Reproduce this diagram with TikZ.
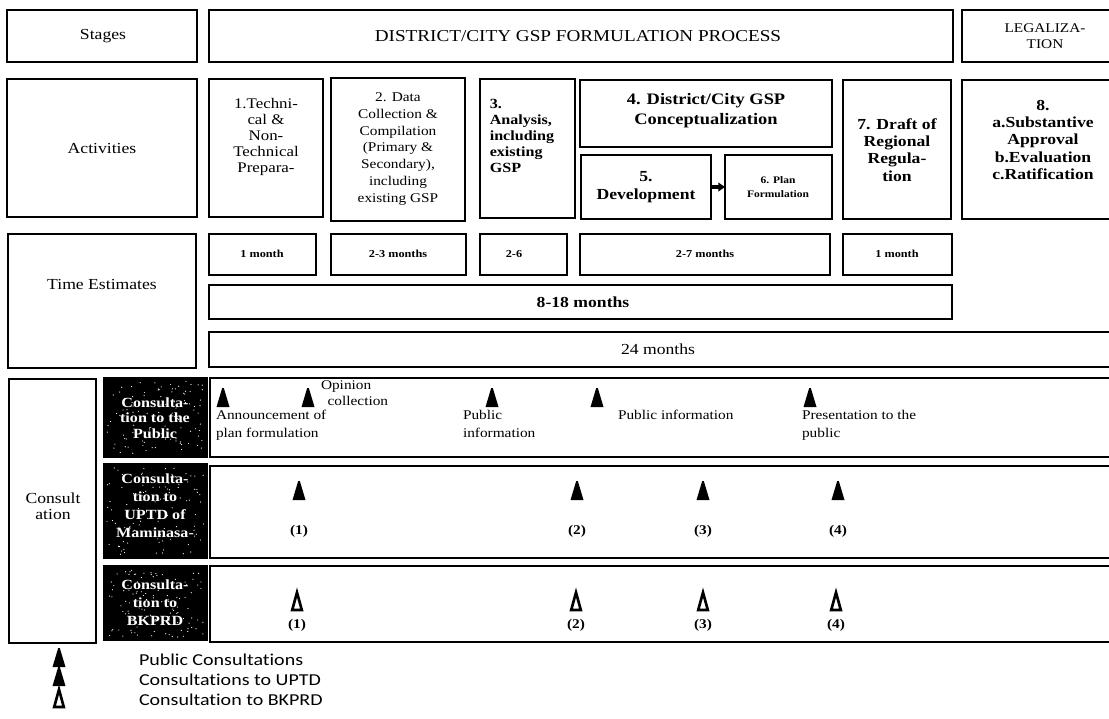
\documentclass[tikz,border=0pt]{standalone}
\usepackage{fontspec}
\setmainfont{Liberation Serif}[FakeStretch=1.15]
\newfontfamily\legendfont{Carlito}[FakeStretch=1.2, Ligatures=NoCommon]
\usetikzlibrary{arrows.meta}

% font size helper (pt size, pt leading)
\newcommand{\fsz}[2]{\fontsize{#1}{#2}\selectfont}

% empty framed box from corner (x1,y1) to corner (x2,y2), pixel units
\newcommand{\mkbox}[6]{%
  \pgfmathsetmacro\boxwd{(#4-#2)*0.75}%
  \pgfmathsetmacro\boxht{(#5-#3)*0.75}%
  \node[#6, minimum width=\boxwd pt, minimum height=\boxht pt]
    (#1) at ({(#2+#4)/2},{(#3+#5)/2}) {};}

\tikzset{
  frame/.style={draw, line width=1.5pt, inner sep=0pt, outer sep=0pt},
  darkbox/.style={fill=black, draw=black, line width=1pt, inner sep=0pt, outer sep=0pt},
  txt/.style={inner sep=0pt, outer sep=0pt, align=center, font=\fsz{11.5}{12}},
  smalltxt/.style={inner sep=0pt, outer sep=0pt, align=center, font=\fsz{8}{9}\bfseries},
  note/.style={inner sep=0pt, outer sep=0pt, align=left, anchor=north west, font=\fsz{10}{13.5}},
  numlabel/.style={inner sep=0pt, outer sep=0pt, font=\fsz{10}{12}\bfseries},
  darktxt/.style={inner sep=0pt, outer sep=0pt, align=center, text=white, font=\fsz{10.5}{11.5}\bfseries},
  legendtxt/.style={inner sep=0pt, outer sep=0pt, anchor=west, font=\legendfont\fsz{12.5}{14}},
  solidtri/.pic={\fill (-6.5,10) -- (-0.8,-9) -- (0.8,-9) -- (6.5,10) -- cycle;},
  opentri/.pic={\draw[line width=2pt, line join=miter] (-4.8,9) -- (0,-8.5) -- (4.8,9) -- cycle;}
}

\begin{document}
\begin{tikzpicture}[x=0.75pt,y=-0.75pt]
\useasboundingbox (0,0) rectangle (1109,718);
\clip (0,0) rectangle (1109,718);
\fill[white] (0,0) rectangle (1109,718);

% ---------- stages ----------
\mkbox{stages}{7}{10}{197}{62}{frame}
\mkbox{process}{209}{10}{953}{62}{frame}
\mkbox{legal}{962}{10}{1125}{62}{frame}
\node[txt] (stages-t) at (103,36) {Stages};
\node[txt, font=\fsz{12.5}{14}] (process-t) at (578,36) {DISTRICT/CITY GSP FORMULATION PROCESS};
\node[txt, font=\fsz{10}{11.5}] (legal-t) at (1045,36) {LEGALIZA-\\TION};

% ---------- activities ----------
\mkbox{activities}{7}{79}{197}{217}{frame}
\mkbox{act1}{209}{79}{323}{217}{frame}
\mkbox{act2}{331}{78}{465}{221}{frame}
\mkbox{act3}{480}{79}{575}{218}{frame}
\mkbox{act4}{580}{80}{832}{147}{frame}
\mkbox{act5}{581}{155}{711}{219}{frame}
\mkbox{act6}{725}{155}{832}{219}{frame}
\mkbox{act7}{843}{80}{951}{219}{frame}
\mkbox{act8}{962}{80}{1125}{219}{frame}

\node[txt] (activities-t) at (102,148) {Activities};
\node[txt, font=\fsz{11}{12}] (act1-t) at (266,137) {1.Techni-\\cal \&\\Non-\\Technical\\Prepara-};
\node[txt, font=\fsz{10}{12.6}] (act2-t) at (398,149) {2. Data\\Collection \&\\Compilation\\(Primary \&\\Secondary),\\including\\existing GSP};
\node[txt, align=left, font=\fsz{10.5}{12}\bfseries] (act3-t) at (522,136) {3.\\Analysis,\\including\\existing\\GSP};
\node[txt, font=\fsz{12}{15}\bfseries] (act4-t) at (706,111) {4. District/City GSP\\Conceptualization};
\node[txt, font=\fsz{11.5}{14}\bfseries] (act5-t) at (646,187) {5.\\Development};
\node[txt, font=\fsz{7.5}{10}\bfseries] (act6-t) at (778,187) {6. Plan\\Formulation};
\node[txt, font=\fsz{11.5}{13}\bfseries] (act7-t) at (897,150) {7. Draft of\\Regional\\Regula-\\tion};
\node[txt, font=\fsz{11.5}{13}\bfseries] (act8-t) at (1043,140) {8.\\a.Substantive\\Approval\\b.Evaluation\\c.Ratification};

\draw[line width=2.5pt, -{Triangle[length=5pt,width=6.5pt]}] (act5) -- (act6);

% ---------- time estimates ----------
\mkbox{time}{8}{234}{196}{368}{frame}
\mkbox{tm1}{209}{234}{316}{275}{frame}
\mkbox{tm2}{331}{234}{466}{275}{frame}
\mkbox{tm3}{480}{234}{567}{275}{frame}
\mkbox{tm4}{580}{234}{830}{275}{frame}
\mkbox{tm5}{843}{234}{952}{275}{frame}
\mkbox{tm818}{209}{285}{952}{319}{frame}
\mkbox{tm24}{209}{332}{1125}{367}{frame}

\node[txt] (time-t) at (102,284) {Time Estimates};
\node[smalltxt] (tm1-t) at (262,254) {1 month};
\node[smalltxt] (tm2-t) at (398,254) {2-3 months};
\node[smalltxt] (tm3-t) at (514,254) {2-6};
\node[smalltxt] (tm4-t) at (705,254) {2-7 months};
\node[smalltxt] (tm5-t) at (897,254) {1 month};
\node[txt, font=\fsz{11.5}{12}\bfseries] (tm818-t) at (583,302) {8-18 months};
\node[txt, font=\fsz{11.5}{12}] (tm24-t) at (658,349) {24 months};

% ---------- consultation ----------
\mkbox{consult}{9}{379}{96}{643}{frame}
\node[txt] (consult-t) at (53,506) {Consult\\ation};

\mkbox{pubhead}{104}{378}{207}{457}{darkbox}
\mkbox{uptdhead}{104}{464}{207}{558}{darkbox}
\mkbox{bkhead}{104}{566}{207}{640}{darkbox}

% grainy white specks on the dark heading boxes
\pgfmathsetseed{271}
\foreach \lftx/\topy/\wdx/\htx in {104/378/103/79, 104/464/103/94, 104/566/103/74}{
  \foreach \k in {1,...,110}{
    \pgfmathsetmacro\spx{\lftx+3+rnd*(\wdx-6)}
    \pgfmathsetmacro\spy{\topy+3+rnd*(\htx-6)}
    \fill[white] (\spx,\spy) circle (0.6);
  }
}

\node[darktxt] (pubhead-t) at (155,418) {Consulta-\\tion to the\\Public};
\node[darktxt, font=\fsz{10.5}{13.5}\bfseries] (uptdhead-t) at (155,506) {Consulta-\\tion to\\UPTD of\\Maminasa-};
\node[darktxt, font=\fsz{10.5}{13.5}\bfseries] (bkhead-t) at (155,603) {Consulta-\\tion to\\BKPRD};

\mkbox{pubrow}{210}{378}{1125}{457}{frame}
\mkbox{uptdrow}{210}{466}{1125}{558}{frame}
\mkbox{bkrow}{210}{566}{1125}{642}{frame}

% public consultation moments
\pic at (223,397) {solidtri};
\pic at (308,397) {solidtri};
\pic at (492,397) {solidtri};
\pic at (597,397) {solidtri};
\pic at (810,397) {solidtri};
\node[note, font=\fsz{10}{11.5}] (n-opinion) at (321,381) {Opinion\\\hspace*{5pt}collection};
\node[note] (n-announce) at (216,410) {Announcement of\\plan formulation};
\node[note] (n-pubinfo1) at (463,410) {Public\\information};
\node[note] (n-pubinfo2) at (618,410) {Public information};
\node[note] (n-present) at (802,410) {Presentation to the\\public};

% consultations to UPTD
\foreach \cx/\lab in {299/1, 577/2, 703/3, 838/4}{
  \pic at (\cx,490) {solidtri};
  \node[numlabel] (uptd-\lab) at (\cx,531) {(\lab)};
}

% consultations to BKPRD
\foreach \cx/\lab in {297/1, 576/2, 703/3, 836/4}{
  \pic at (\cx,601) {opentri};
  \node[numlabel] (bk-\lab) at (\cx,625) {(\lab)};
}

% ---------- legend ----------
\pic at (59,657) {solidtri};
\pic at (59,676) {solidtri};
\pic at (59,698) {opentri};
\node[legendtxt] (leg1) at (139,660) {Public Consultations};
\node[legendtxt] (leg2) at (139,680) {Consultations to UPTD};
\node[legendtxt] (leg3) at (139,700) {Consultation to BKPRD};
\end{tikzpicture}
\end{document}
